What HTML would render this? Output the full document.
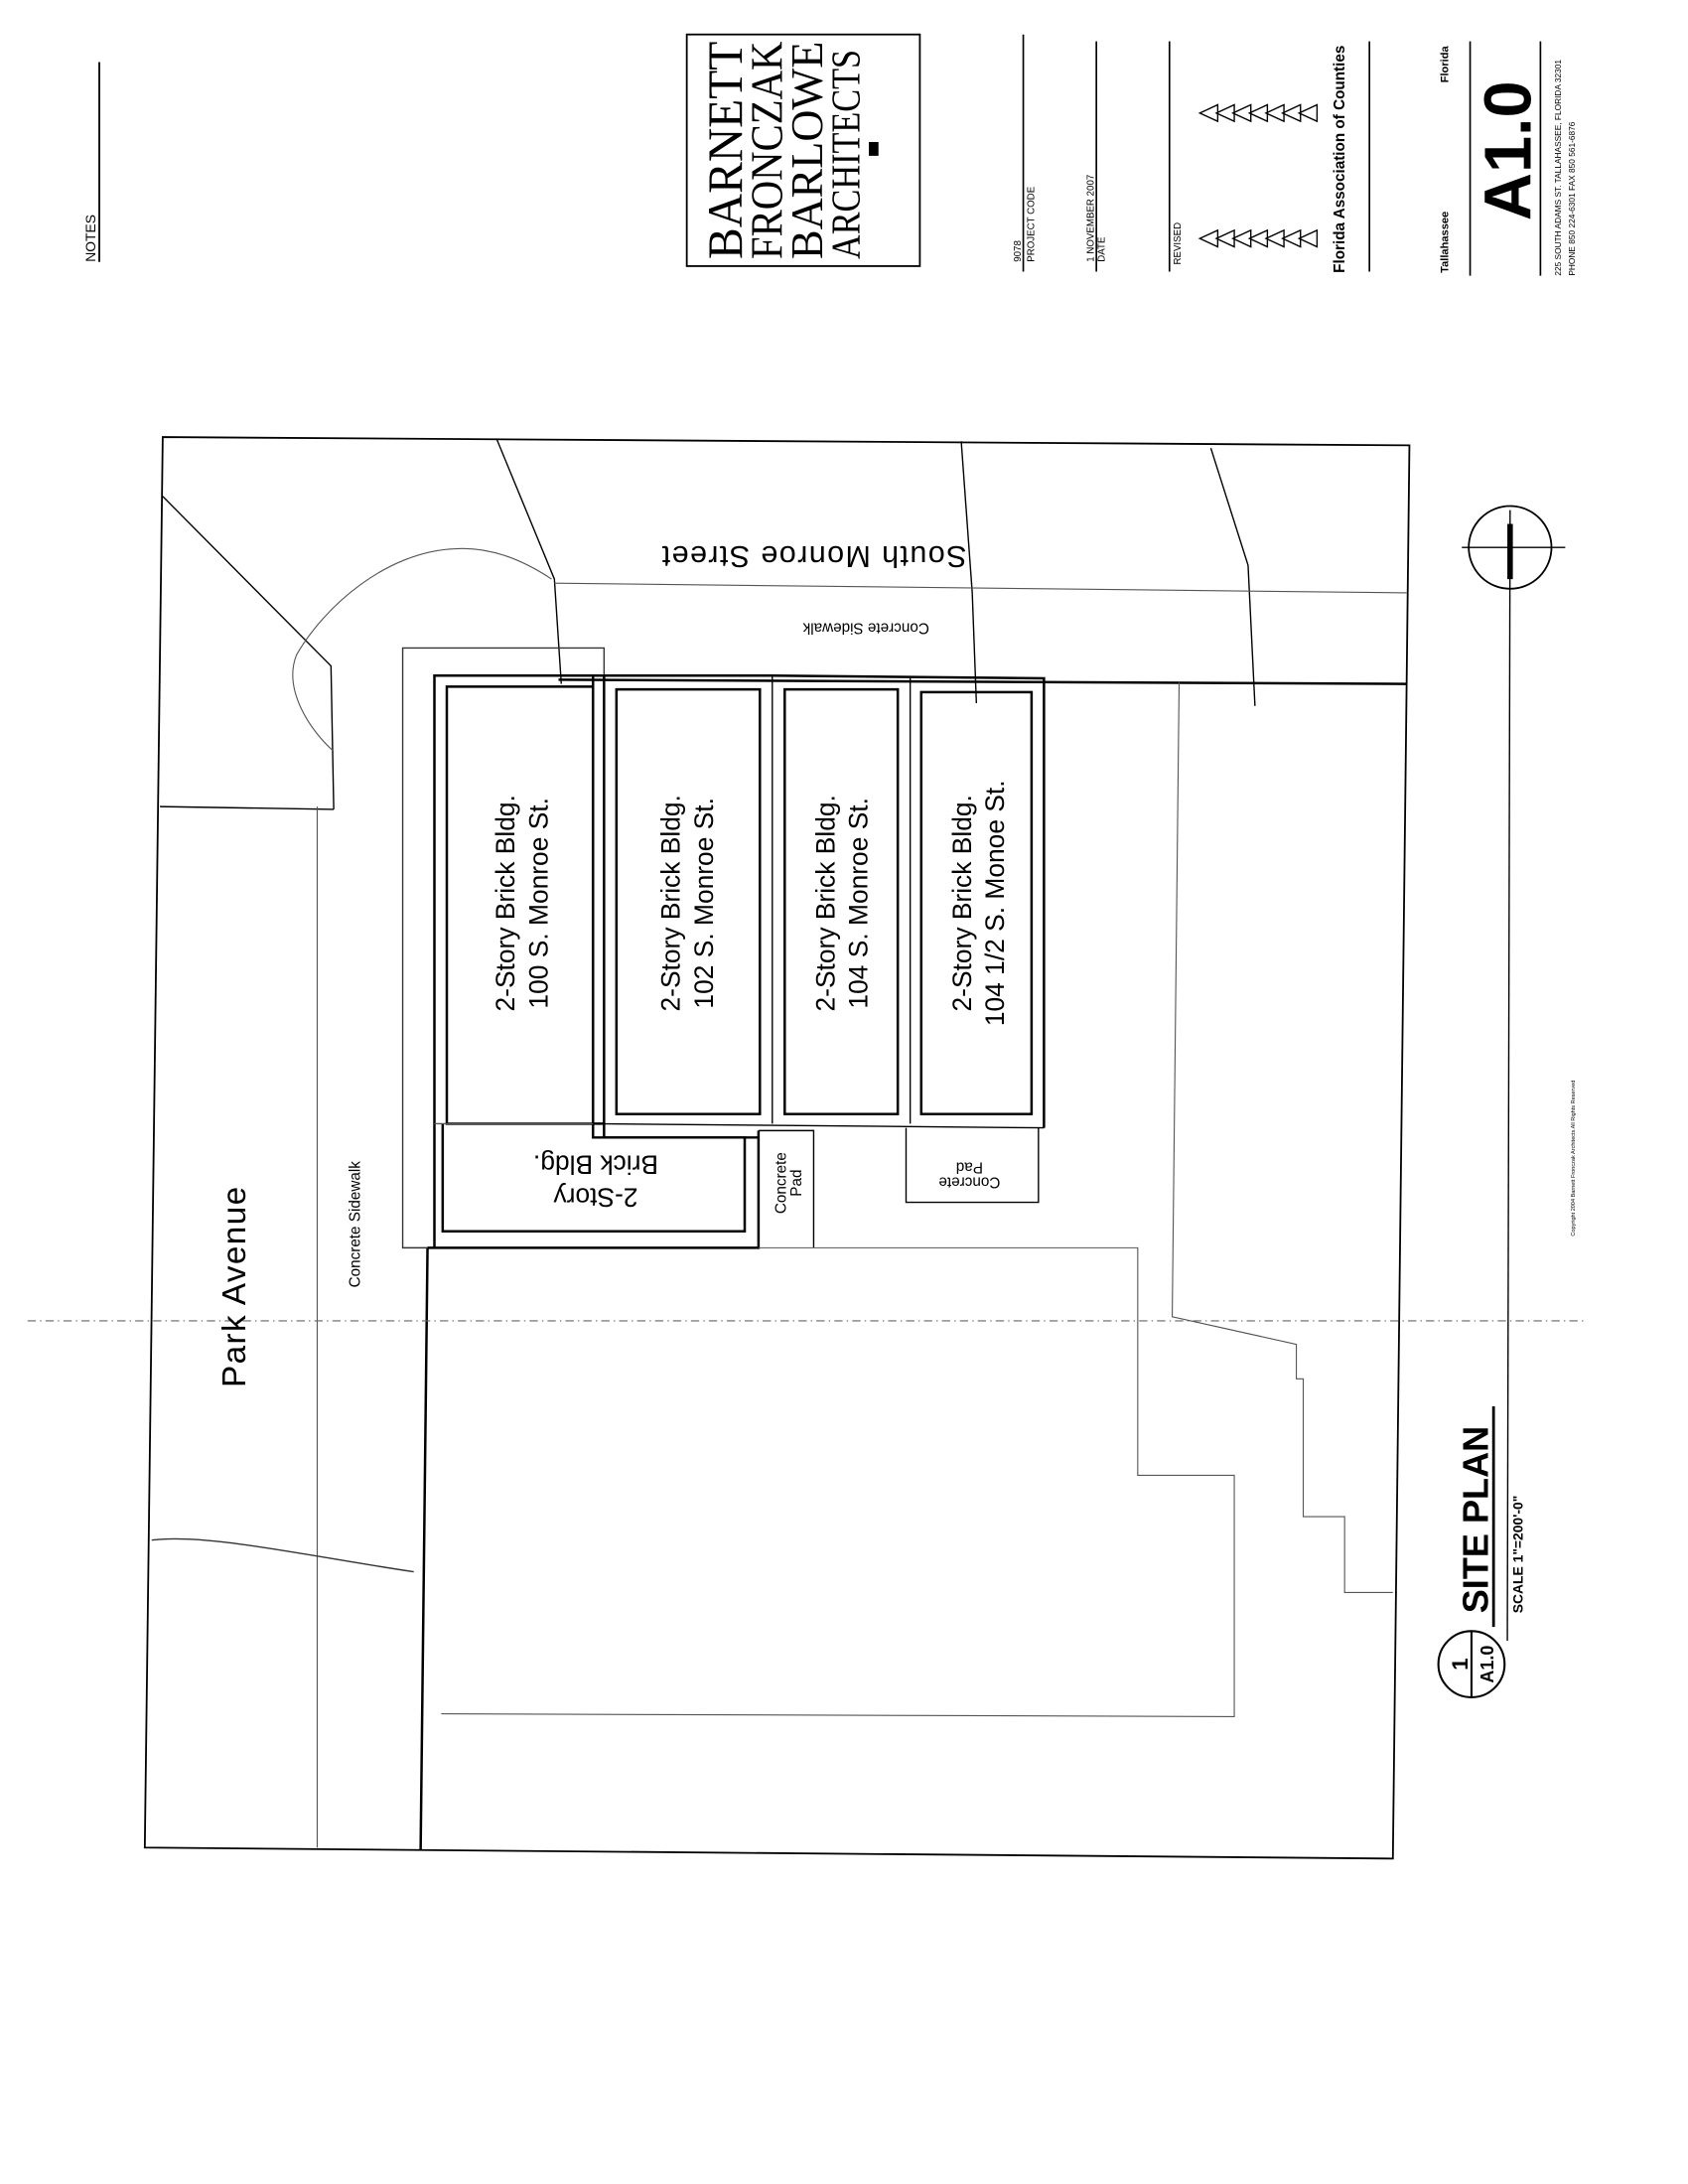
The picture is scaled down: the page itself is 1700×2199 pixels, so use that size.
<!DOCTYPE html>
<html><head><meta charset="utf-8"><style>
html,body{margin:0;padding:0;background:#fff}
svg{display:block}
text{font-family:"Liberation Sans",sans-serif;fill:#000}
</style></head><body>
<svg width="1700" height="2199" viewBox="0 0 1224 1584" preserveAspectRatio="none" xmlns="http://www.w3.org/2000/svg">
<defs>
<g id="tri"><polygon points="0,6 13,0 13,12" fill="none" stroke="#000" stroke-width="1"/></g>
</defs>
<g fill="none" stroke="#000" stroke-width="1">
<polygon points="118,317 1022,323 1010,1348 105,1340" stroke-width="1.3"/>
<polyline points="118,360 240,483 242,587"/>
<line x1="116" y1="585" x2="242" y2="587"/>
<path d="M242,545 C225,530 205,500 215,475 C235,440 280,400 330,398 C360,396 385,410 400,420" stroke="#555" stroke-width="0.8"/>
<polyline points="360,318 402,420 407,496"/>
<polyline points="697,320 705,430 708,510"/>
<polyline points="878,325 905,410 910,512"/>
<line x1="402" y1="423" x2="1020" y2="430" stroke="#555" stroke-width="0.8"/>
<line x1="405" y1="493" x2="1020" y2="496" stroke-width="1.8"/>
<line x1="230" y1="585" x2="230" y2="1340" stroke="#555" stroke-width="0.8"/>
<line x1="310" y1="905" x2="305" y2="1342" stroke-width="1.8"/>
<path d="M110,1117 C150,1112 220,1128 300,1140" stroke="#333"/>
<polyline points="310,905 292,905 292,470 438,470 438,493" stroke="#333"/>
<polyline points="315,905 315,490 438,490 438,815 430,815 430,490 560,490 757,492 757,818" stroke-width="1.8"/>
<line x1="560" y1="490" x2="560" y2="815"/>
<line x1="660" y1="492" x2="660" y2="815"/>
<line x1="430" y1="815" x2="757" y2="818"/>
<line x1="438" y1="825" x2="550" y2="825" stroke-width="1.8"/>
<polyline points="438,815 438,825" stroke-width="1.8"/>
<polyline points="550,820 550,905 310,905" stroke-width="1.8"/>
<rect x="324" y="498" width="106" height="317" stroke-width="1.8"/>
<polyline points="430,815 430,825 540,825 540,893 321,893 321,815" stroke-width="1.8"/>
<line x1="315" y1="815" x2="430" y2="815" stroke="#555"/>
<rect x="447" y="500" width="104" height="308" stroke-width="1.8"/>
<rect x="569" y="500" width="82" height="308" stroke-width="1.8"/>
<rect x="668" y="502" width="80" height="306" stroke-width="1.8"/>
<polyline points="550,820 590,820 590,905"/>
<polyline points="657,818 657,872 753,872 753,818"/>
<polyline points="550,905 825,905 825,1070 895,1070 895,1245 320,1243" stroke="#555" stroke-width="0.8"/>
<polyline points="855,495 850,955 940,975 940,1000 945,1000 945,1100 975,1100 975,1155 1010,1155" stroke="#555" stroke-width="0.8"/>
<line x1="20" y1="958" x2="1150" y2="958" stroke="#666" stroke-width="0.8" stroke-dasharray="6,3,1,3"/>
<circle cx="1095" cy="397" r="30" stroke-width="1.3"/>
<line x1="1060" y1="397" x2="1135" y2="397"/>
<line x1="1095" y1="370" x2="1093" y2="1190"/>
<line x1="1095" y1="380" x2="1095" y2="420" stroke-width="4"/>
<circle cx="1067" cy="1207" r="24" stroke-width="1.5"/>
<line x1="1067" y1="1183" x2="1067" y2="1231" stroke-width="1.5"/>
<line x1="1083" y1="1020" x2="1083" y2="1180" stroke-width="2"/>
<line x1="72" y1="45" x2="72" y2="190" stroke-width="1.3"/>
<rect x="498" y="25" width="169" height="168" stroke-width="1.3"/>
<line x1="742" y1="25" x2="742" y2="197" stroke-width="1.2"/>
<line x1="795" y1="30" x2="795" y2="197" stroke-width="1.2"/>
<line x1="848" y1="30" x2="848" y2="197" stroke-width="1.2"/>
<line x1="993" y1="30" x2="993" y2="197" stroke-width="1.2"/>
<line x1="1066" y1="30" x2="1066" y2="200" stroke-width="1.2"/>
<line x1="1117" y1="30" x2="1117" y2="200" stroke-width="1.2"/>
</g>
<!-- revision triangles -->
<g>
<use href="#tri" x="870" y="76"/><use href="#tri" x="882" y="76"/><use href="#tri" x="894" y="76"/><use href="#tri" x="906" y="76"/><use href="#tri" x="918" y="76"/><use href="#tri" x="930" y="76"/><use href="#tri" x="942" y="76"/>
<use href="#tri" x="870" y="167"/><use href="#tri" x="882" y="167"/><use href="#tri" x="894" y="167"/><use href="#tri" x="906" y="167"/><use href="#tri" x="918" y="167"/><use href="#tri" x="930" y="167"/><use href="#tri" x="942" y="167"/>
</g>
<g font-size="19">
<text transform="translate(377,655) rotate(-90)" text-anchor="middle"><tspan x="0" y="-4">2-Story Brick Bldg.</tspan><tspan x="0" y="20">100 S. Monroe St.</tspan></text>
<text transform="translate(497,655) rotate(-90)" text-anchor="middle"><tspan x="0" y="-4">2-Story Brick Bldg.</tspan><tspan x="0" y="20">102 S. Monroe St.</tspan></text>
<text transform="translate(609,655) rotate(-90)" text-anchor="middle"><tspan x="0" y="-4">2-Story Brick Bldg.</tspan><tspan x="0" y="20">104 S. Monroe St.</tspan></text>
<text transform="translate(708,655) rotate(-90)" text-anchor="middle"><tspan x="0" y="-4">2-Story Brick Bldg.</tspan><tspan x="0" y="20">104 1/2 S. Monoe St.</tspan></text>
<text transform="translate(432,858) rotate(180)" text-anchor="middle"><tspan x="0" y="-4">2-Story</tspan><tspan x="0" y="20">Brick Bldg.</tspan></text>
</g>
<text transform="translate(178,933) rotate(-90)" text-anchor="middle" font-size="24" letter-spacing="1">Park Avenue</text>
<text transform="translate(590,396) rotate(180)" text-anchor="middle" font-size="22" letter-spacing="1">South Monroe Street</text>
<text transform="translate(261,888) rotate(-90)" text-anchor="middle" font-size="11">Concrete Sidewalk</text>
<text transform="translate(628,452) rotate(180)" text-anchor="middle" font-size="11">Concrete Sidewalk</text>
<text transform="translate(570,858) rotate(-90)" text-anchor="middle" font-size="11"><tspan x="0" y="0">Concrete</tspan><tspan x="0" y="11">Pad</tspan></text>
<text transform="translate(703,848) rotate(180)" text-anchor="middle" font-size="11"><tspan x="0" y="-6">Concrete</tspan><tspan x="0" y="5">Pad</tspan></text>
<text transform="translate(1079,1170) rotate(-90)" font-size="26" font-weight="bold">SITE PLAN</text>
<text transform="translate(1104,1170) rotate(-90)" font-size="10" font-weight="bold">SCALE 1"=200'-0"</text>
<text transform="translate(1064,1207) rotate(-90)" text-anchor="middle" font-size="16" font-weight="bold">1</text>
<text transform="translate(1083,1207) rotate(-90)" text-anchor="middle" font-size="13" font-weight="bold">A1.0</text>
<text transform="translate(1142,840) rotate(-90)" text-anchor="middle" font-size="4">Copyright 2004 Barnett Fronczak Architects All Rights Reserved</text>
<text transform="translate(69,190) rotate(-90)" font-size="10">NOTES</text>
<text transform="translate(538,188) rotate(-90)" font-size="36" textLength="158" lengthAdjust="spacingAndGlyphs" style="font-family:'Liberation Serif',serif">BARNETT</text>
<text transform="translate(567,188) rotate(-90)" font-size="33" textLength="158" lengthAdjust="spacingAndGlyphs" style="font-family:'Liberation Serif',serif">FRONCZAK</text>
<text transform="translate(596,188) rotate(-90)" font-size="33" textLength="158" lengthAdjust="spacingAndGlyphs" style="font-family:'Liberation Serif',serif">BARLOWE</text>
<text transform="translate(623,188) rotate(-90)" font-size="30" textLength="152" lengthAdjust="spacingAndGlyphs" style="font-family:'Liberation Serif',serif">ARCHITECTS</text>
<rect x="630" y="103" width="7" height="10" fill="#000"/>
<text transform="translate(740,190) rotate(-90)" font-size="7">9078</text>
<text transform="translate(750,190) rotate(-90)" font-size="7">PROJECT CODE</text>
<text transform="translate(793,190) rotate(-90)" font-size="7">1 NOVEMBER 2007</text>
<text transform="translate(801,190) rotate(-90)" font-size="7">DATE</text>
<text transform="translate(856,192) rotate(-90)" font-size="7">REVISED</text>
<text transform="translate(975,198) rotate(-90)" font-size="11" font-weight="bold">Florida Association of Counties</text>
<text transform="translate(1050,198) rotate(-90)" font-size="8" font-weight="bold">Tallahassee</text>
<text transform="translate(1050,60) rotate(-90)" font-size="8" font-weight="bold">Florida</text>
<text transform="translate(1110,160) rotate(-90)" font-size="48" font-weight="bold">A1.0</text>
<text transform="translate(1132,200) rotate(-90)" font-size="6">225 SOUTH ADAMS ST. TALLAHASSEE, FLORIDA 32301</text>
<text transform="translate(1142,200) rotate(-90)" font-size="6">PHONE 850 224-6301     FAX 850 561-6876</text>
</svg>
</body></html>
